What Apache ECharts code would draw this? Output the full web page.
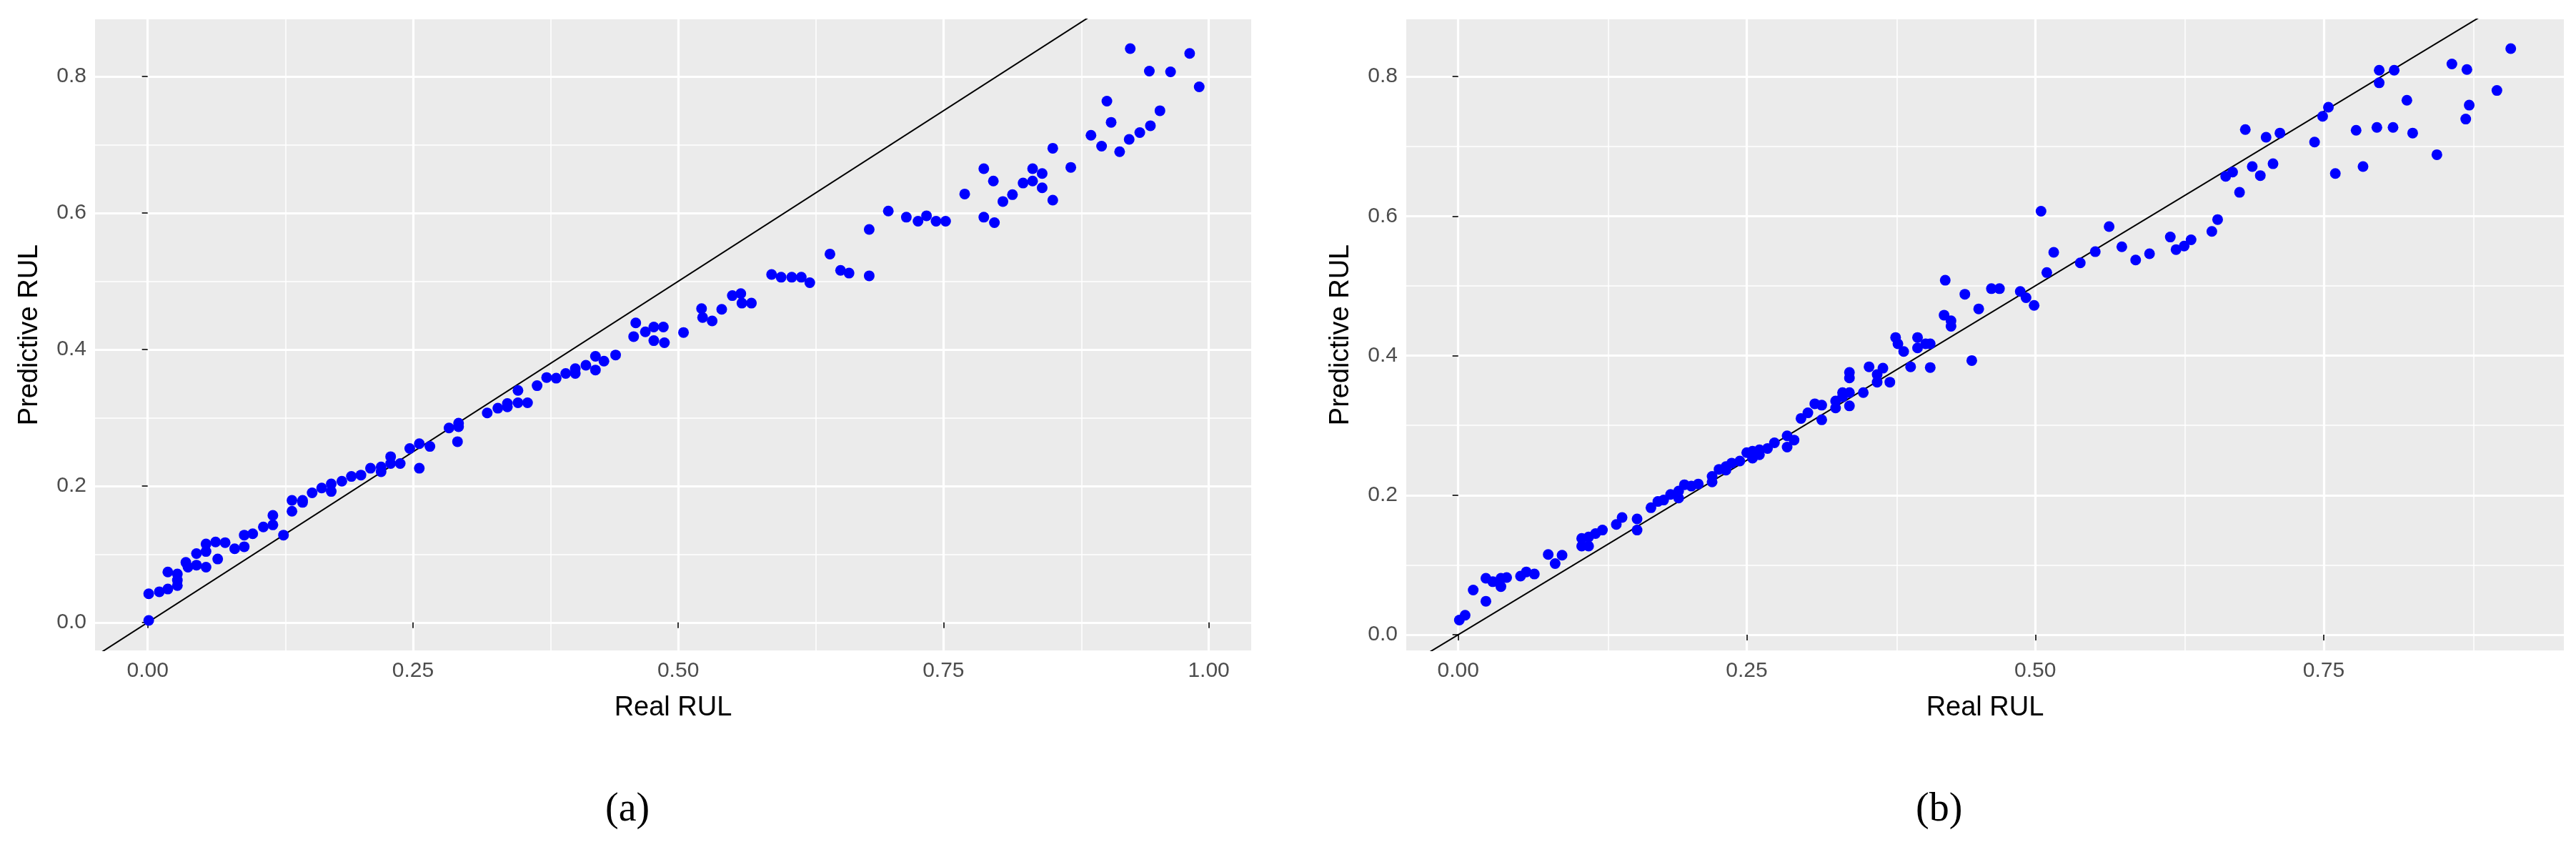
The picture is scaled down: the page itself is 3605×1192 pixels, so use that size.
<!DOCTYPE html>
<html>
<head>
<meta charset="utf-8">
<script src="https://cdn.jsdelivr.net/npm/echarts@6/dist/echarts.min.js"></script>
<style>html,body{margin:0;padding:0;background:#fff}#main{width:3605px;height:1192px}</style>
</head>
<body>
<div id="main"></div>
<script>
// panel (a): real RUL vs predicted RUL
var realA = [0.001,0.001,0.011,0.019,0.019,0.028,0.028,0.028,0.036,0.038,0.046,0.046,0.055,0.055,0.055,0.064,0.066,0.073,0.082,0.091,0.091,0.099,0.109,0.118,0.118,0.128,0.136,0.136,0.146,0.146,0.155,0.164,0.173,0.173,0.183,0.192,0.201,0.210,0.220,0.220,0.229,0.229,0.238,0.247,0.256,0.256,0.266,0.284,0.293,0.293,0.292,0.320,0.330,0.339,0.339,0.349,0.349,0.358,0.367,0.376,0.385,0.394,0.403,0.403,0.413,0.422,0.422,0.430,0.441,0.458,0.460,0.469,0.477,0.477,0.486,0.487,0.505,0.522,0.523,0.532,0.541,0.551,0.559,0.560,0.569,0.588,0.597,0.607,0.616,0.624,0.643,0.653,0.661,0.680,0.680,0.698,0.715,0.726,0.734,0.743,0.752,0.770,0.788,0.788,0.797,0.798,0.806,0.815,0.825,0.834,0.834,0.843,0.843,0.853,0.853,0.870,0.889,0.899,0.904,0.908,0.916,0.925,0.926,0.935,0.944,0.945,0.954,0.964,0.982,0.991];
var predA = [0.003,0.042,0.045,0.074,0.049,0.071,0.062,0.054,0.088,0.081,0.101,0.084,0.115,0.104,0.081,0.118,0.093,0.117,0.108,0.128,0.111,0.130,0.140,0.157,0.143,0.128,0.179,0.163,0.179,0.176,0.190,0.197,0.203,0.192,0.207,0.214,0.216,0.226,0.228,0.221,0.243,0.233,0.233,0.255,0.262,0.226,0.258,0.285,0.292,0.287,0.265,0.307,0.314,0.321,0.316,0.340,0.322,0.322,0.347,0.359,0.358,0.365,0.372,0.365,0.377,0.390,0.370,0.383,0.392,0.419,0.439,0.426,0.433,0.413,0.433,0.410,0.425,0.460,0.447,0.442,0.459,0.479,0.482,0.468,0.468,0.510,0.506,0.506,0.506,0.498,0.540,0.516,0.512,0.576,0.508,0.603,0.594,0.588,0.596,0.588,0.588,0.628,0.665,0.594,0.647,0.586,0.617,0.627,0.644,0.665,0.647,0.658,0.637,0.695,0.619,0.667,0.714,0.698,0.764,0.733,0.690,0.708,0.841,0.718,0.808,0.728,0.750,0.807,0.834,0.785];

// panel (b)
var realB = [0.001,0.006,0.013,0.024,0.024,0.030,0.037,0.037,0.042,0.054,0.059,0.066,0.078,0.084,0.090,0.107,0.107,0.113,0.113,0.119,0.125,0.137,0.142,0.155,0.155,0.167,0.173,0.178,0.184,0.191,0.191,0.196,0.202,0.208,0.220,0.220,0.226,0.232,0.232,0.237,0.244,0.250,0.255,0.255,0.261,0.261,0.268,0.274,0.285,0.285,0.291,0.297,0.303,0.309,0.315,0.315,0.327,0.327,0.333,0.333,0.339,0.339,0.339,0.339,0.351,0.356,0.363,0.363,0.368,0.374,0.379,0.381,0.386,0.392,0.398,0.398,0.405,0.409,0.409,0.422,0.421,0.427,0.427,0.439,0.445,0.451,0.462,0.469,0.487,0.492,0.499,0.505,0.510,0.516,0.539,0.552,0.564,0.575,0.587,0.599,0.617,0.622,0.629,0.635,0.653,0.658,0.665,0.671,0.677,0.682,0.688,0.695,0.700,0.706,0.712,0.742,0.749,0.754,0.760,0.778,0.784,0.796,0.798,0.798,0.810,0.811,0.822,0.827,0.848,0.861,0.873,0.874,0.876,0.900,0.912];
var predB = [0.021,0.028,0.064,0.081,0.048,0.076,0.081,0.069,0.082,0.084,0.090,0.087,0.115,0.102,0.114,0.138,0.127,0.140,0.127,0.145,0.150,0.158,0.168,0.166,0.150,0.182,0.191,0.193,0.201,0.206,0.196,0.215,0.213,0.216,0.219,0.227,0.237,0.236,0.241,0.246,0.249,0.261,0.263,0.253,0.258,0.265,0.267,0.275,0.285,0.269,0.279,0.310,0.318,0.331,0.329,0.308,0.335,0.325,0.347,0.341,0.347,0.376,0.368,0.328,0.347,0.384,0.373,0.362,0.382,0.362,0.426,0.417,0.406,0.384,0.426,0.411,0.417,0.417,0.383,0.508,0.458,0.450,0.442,0.488,0.393,0.467,0.496,0.496,0.492,0.483,0.472,0.607,0.519,0.548,0.533,0.549,0.585,0.556,0.537,0.546,0.570,0.552,0.557,0.566,0.578,0.595,0.657,0.663,0.634,0.724,0.671,0.658,0.713,0.675,0.719,0.706,0.743,0.756,0.661,0.723,0.671,0.727,0.809,0.791,0.727,0.809,0.766,0.719,0.688,0.818,0.739,0.810,0.759,0.780,0.840];

var xTicks = [0, 0.25, 0.5, 0.75, 1.0];
var yTicks = [0, 0.2, 0.4, 0.6, 0.8];
var xMinor = [0.125, 0.375, 0.625, 0.875];
var yMinor = [0.1, 0.3, 0.5, 0.7];

function pairs(xs, ys) {
    return xs.map(function (v, i) { return [v, ys[i]]; });
}

function gridLines(major, minor, isX) {
    var d = [];
    major.forEach(function (v) {
        var o = isX ? { xAxis: v } : { yAxis: v };
        o.lineStyle = { color: '#fff', width: 3.2, type: 'solid' };
        d.push(o);
    });
    minor.forEach(function (v) {
        var o = isX ? { xAxis: v } : { yAxis: v };
        o.lineStyle = { color: '#fff', width: 1.5, type: 'solid' };
        d.push(o);
    });
    return d;
}

var titleStyle = { color: '#000', fontSize: 38, fontFamily: 'Liberation Sans' };

function xAxis(idx, min, max, ticks) {
    return {
        gridIndex: idx, type: 'value', min: min, max: max,
        name: 'Real RUL', nameLocation: 'middle', nameGap: 62, nameTextStyle: titleStyle,
        axisLine: { show: false },
        axisTick: { show: true, length: 8, customValues: ticks, lineStyle: { color: '#333', width: 2 } },
        axisLabel: { customValues: ticks, margin: 14, color: '#4D4D4D', fontSize: 30, fontFamily: 'Liberation Sans',
            formatter: function (v) { return v.toFixed(2); } },
        splitLine: { show: false }
    };
}
function yAxis(idx, min, max, ticks) {
    return {
        gridIndex: idx, type: 'value', min: min, max: max,
        name: 'Predictive RUL', nameLocation: 'middle', nameGap: 72, nameTextStyle: titleStyle,
        axisLine: { show: false },
        axisTick: { show: true, length: 8, customValues: ticks, lineStyle: { color: '#333', width: 2 } },
        axisLabel: { customValues: ticks, margin: 12, color: '#4D4D4D', fontSize: 30, fontFamily: 'Liberation Sans',
            formatter: function (v) { return v.toFixed(1); } },
        splitLine: { show: false }
    };
}

function panelSeries(idx, data, xMajor) {
    return [{
        type: 'line', xAxisIndex: idx, yAxisIndex: idx, data: [], silent: true, z: 0, zlevel: 0,
        markLine: { silent: true, symbol: 'none', label: { show: false }, animation: false, z: 0,
            data: gridLines(xMajor, xMinor, true).concat(gridLines(yTicks, yMinor, false)) }
    }, {
        type: 'line', xAxisIndex: idx, yAxisIndex: idx, data: [[-0.2, -0.2], [1.2, 1.2]], zlevel: 1,
        showSymbol: false, lineStyle: { color: '#000', width: 2 }, clip: true, z: 3, silent: true
    }, {
        type: 'scatter', xAxisIndex: idx, yAxisIndex: idx, data: data, zlevel: 2,
        symbolSize: 15, itemStyle: { color: '#0000FF', opacity: 1 }, z: 10
    }];
}

var myChart = echarts.init(document.getElementById('main'));
var option = {
    animation: false,
    grid: [
        { left: 133, width: 1618, top: 27, bottom: 282, backgroundColor: '#EBEBEB', show: true, borderWidth: 0 },
        { left: 1968, width: 1620, top: 27, bottom: 282, backgroundColor: '#EBEBEB', show: true, borderWidth: 0 }
    ],
    xAxis: [xAxis(0, -0.0496, 1.04, xTicks), xAxis(1, -0.045, 0.958, xTicks.slice(0, 4))],
    yAxis: [yAxis(0, -0.041, 0.884, yTicks), yAxis(1, -0.0225, 0.882, yTicks)],
    graphic: [
        { type: 'text', left: 889 - 42, top: 1105, style: { text: '(a)', font: '56px "Liberation Serif"', fill: '#000' } },
        { type: 'text', left: 2723 - 42, top: 1105, style: { text: '(b)', font: '56px "Liberation Serif"', fill: '#000' } }
    ],
    series: panelSeries(0, pairs(realA, predA), xTicks)
        .concat(panelSeries(1, pairs(realB, predB), xTicks.slice(0, 4)))
};
myChart.setOption(option);
</script>
</body>
</html>
